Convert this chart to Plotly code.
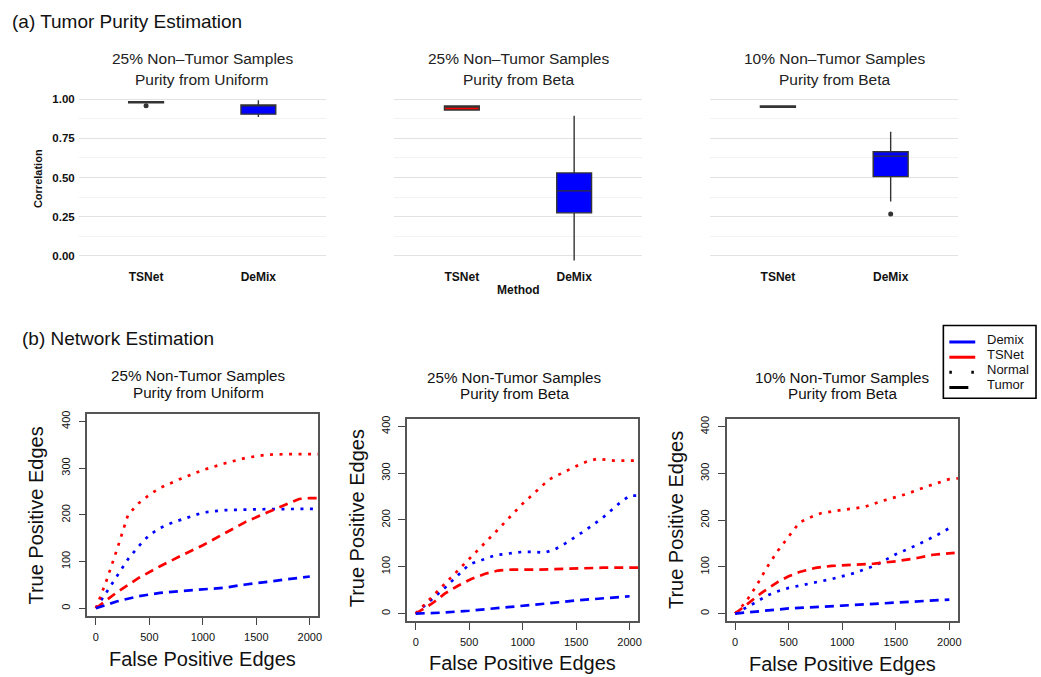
import plotly.graph_objects as go

W, H = 1041, 677
FONT = "Liberation Sans, Arial, Helvetica, sans-serif"

# ---------------- data: (a) tumor purity estimation (box summaries) ----------------
methods = ["TSNet", "DeMix"]
box_titles = [("25% Non\u2013Tumor Samples", "Purity from Uniform"),
              ("25% Non\u2013Tumor Samples", "Purity from Beta"),
              ("10% Non\u2013Tumor Samples", "Purity from Beta")]
box_q1 = [[0.978, 0.905], [0.931, 0.275], [0.948, 0.506]]
box_median = [[0.981, 0.962], [0.952, 0.415], [0.953, 0.637]]
box_q3 = [[0.984, 0.964], [0.957, 0.530], [0.957, 0.665]]
box_lower = [[0.978, 0.886], [0.930, -0.030], [0.948, 0.348]]
box_upper = [[0.984, 0.994], [0.962, 0.894], [0.957, 0.793]]
box_outliers = [[[0.958], []], [[], []], [[], [0.267]]]
method_colors = ["#FF0000", "#0000FF"]

# ---------------- data: (b) network estimation ----------------
net_titles = [("25% Non-Tumor Samples", "Purity from Uniform"),
              ("25% Non-Tumor Samples", "Purity from Beta"),
              ("10% Non-Tumor Samples", "Purity from Beta")]

# panel 1: 25% uniform
p1_tsnet_normal_x = [0, 100, 200, 300, 400, 500, 600, 700, 800, 1000, 1200, 1400, 1600, 1800, 2100]
p1_tsnet_normal_y = [0, 60, 128, 200, 225, 243, 258, 268, 278, 296, 310, 322, 329, 330, 330]
p1_demix_normal_x = [0, 100, 200, 300, 400, 500, 600, 700, 800, 900, 1000, 1200, 1500, 2100]
p1_demix_normal_y = [0, 35, 70, 105, 133, 157, 172, 182, 190, 198, 205, 210, 212, 213]
p1_tsnet_tumor_x = [0, 200, 400, 600, 800, 1000, 1200, 1400, 1600, 1800, 1900, 2000, 2100]
p1_tsnet_tumor_y = [0, 35, 65, 90, 113, 135, 160, 185, 205, 225, 234, 236, 236]
p1_demix_tumor_x = [0, 200, 400, 600, 800, 1000, 1200, 1400, 1600, 1800, 2000]
p1_demix_tumor_y = [0, 15, 26, 33, 37, 40, 44, 51, 57, 63, 68]

# panel 2: 25% beta
p2_tsnet_normal_x = [0, 250, 500, 750, 1000, 1250, 1500, 1600, 1700, 1850, 2100]
p2_tsnet_normal_y = [0, 58, 115, 175, 235, 287, 315, 325, 331, 327, 327]
p2_demix_normal_x = [0, 250, 500, 750, 1000, 1100, 1200, 1300, 1400, 1500, 1600, 1750, 1900, 2000, 2100]
p2_demix_normal_y = [0, 50, 105, 125, 132, 132, 130, 137, 150, 165, 180, 205, 235, 252, 252]
p2_tsnet_tumor_x = [0, 150, 275, 400, 520, 650, 770, 900, 1150, 1450, 1750, 2100]
p2_tsnet_tumor_y = [0, 21, 43, 60, 74, 85, 92, 94, 94, 96, 98, 98]
p2_demix_tumor_x = [0, 250, 500, 750, 1000, 1250, 1500, 1750, 2000]
p2_demix_tumor_y = [0, 2, 6, 11, 17, 22, 28, 33, 37]

# panel 3: 10% beta
p3_tsnet_normal_x = [0, 100, 200, 300, 400, 500, 600, 700, 800, 1000, 1200, 1400, 1600, 1800, 2000, 2100]
p3_tsnet_normal_y = [0, 25, 60, 100, 135, 165, 195, 206, 215, 222, 228, 243, 256, 273, 288, 290]
p3_demix_normal_x = [0, 100, 200, 300, 400, 500, 700, 900, 1100, 1300, 1500, 1700, 1900, 2000]
p3_demix_normal_y = [0, 12, 25, 39, 48, 55, 64, 74, 86, 102, 127, 147, 170, 183]
p3_tsnet_tumor_x = [0, 150, 250, 400, 500, 600, 750, 900, 1100, 1300, 1500, 1700, 1850, 2000, 2050]
p3_tsnet_tumor_y = [0, 28, 45, 68, 80, 89, 98, 102, 104, 107, 112, 119, 126, 130, 130]
p3_demix_tumor_x = [0, 200, 500, 1000, 1500, 2000]
p3_demix_tumor_y = [0, 5, 11, 17, 23, 30]

x_ticks_net = [0, 500, 1000, 1500, 2000]
y_ticks_net = [0, 100, 200, 300, 400]
y_ticks_box = [0.0, 0.25, 0.5, 0.75, 1.0]
legend_labels = ["Demix", "TSNet", "Normal", "Tumor"]

RED, BLUE = "#FF0000", "#0000FF"
DOT = "3px,6.5px"
DASH = "9px,6px"
DY = -2.5  # annotation vertical correction


def fx(x):
    return x / W


def fy(y):
    return 1 - y / H


fig = go.Figure()

# ---------------- top box panels ----------------
top_dom_x = [(79, 327), (396, 644), (713, 962)]
top_dom_y = (88.8, 261.9)
for p in range(3):
    ax = "" if p == 0 else str(p + 1)
    for m in range(2):
        fig.add_trace(go.Box(
            x=[m + 1], q1=[box_q1[p][m]], median=[box_median[p][m]], q3=[box_q3[p][m]],
            lowerfence=[box_lower[p][m]], upperfence=[box_upper[p][m]],
            width=0.31, whiskerwidth=0, fillcolor=method_colors[m],
            line=dict(color="#333333", width=1.4), boxpoints=False,
            xaxis="x" + ax, yaxis="y" + ax, showlegend=False, hoverinfo="skip"))
        if box_outliers[p][m]:
            fig.add_trace(go.Scatter(
                x=[m + 1] * len(box_outliers[p][m]), y=box_outliers[p][m], mode="markers",
                marker=dict(color="#333333", size=5), xaxis="x" + ax, yaxis="y" + ax,
                showlegend=False, hoverinfo="skip"))
    x0, x1 = top_dom_x[p]
    fig.layout["xaxis" + ax] = dict(
        domain=[fx(x0), fx(x1)], range=[0.4, 2.6], tickvals=[1, 2], ticktext=methods,
        showgrid=False, zeroline=False, showline=False, ticks="",
        tickfont=dict(family=FONT, size=12, color="#111111", weight="bold"),
        ticklabelstandoff=4, anchor="y" + ax)
    fig.layout["yaxis" + ax] = dict(
        domain=[fy(top_dom_y[1]), fy(top_dom_y[0])], range=[-0.05, 1.05],
        tickvals=y_ticks_box, ticktext=["%.2f" % v for v in y_ticks_box],
        showticklabels=(p == 0), showgrid=True, gridcolor="#e2e2e2", gridwidth=1.1,
        minor=dict(tick0=0.125, dtick=0.25, showgrid=True, gridcolor="#f3f3f3", gridwidth=0.8),
        zeroline=False, showline=False, ticks="",
        tickfont=dict(family=FONT, size=11.5, color="#111111", weight="bold"),
        ticklabelstandoff=3, anchor="x" + ax)

# ---------------- bottom network panels ----------------
net_series = [
    [(p1_demix_normal_x, p1_demix_normal_y, BLUE, DOT), (p1_tsnet_normal_x, p1_tsnet_normal_y, RED, DOT),
     (p1_tsnet_tumor_x, p1_tsnet_tumor_y, RED, DASH), (p1_demix_tumor_x, p1_demix_tumor_y, BLUE, DASH)],
    [(p2_demix_normal_x, p2_demix_normal_y, BLUE, DOT), (p2_tsnet_normal_x, p2_tsnet_normal_y, RED, DOT),
     (p2_tsnet_tumor_x, p2_tsnet_tumor_y, RED, DASH), (p2_demix_tumor_x, p2_demix_tumor_y, BLUE, DASH)],
    [(p3_demix_normal_x, p3_demix_normal_y, BLUE, DOT), (p3_tsnet_normal_x, p3_tsnet_normal_y, RED, DOT),
     (p3_tsnet_tumor_x, p3_tsnet_tumor_y, RED, DASH), (p3_demix_tumor_x, p3_demix_tumor_y, BLUE, DASH)],
]
bot_dom_x = [(87.7, 319.6), (408.7, 640.6), (729.4, 961.6)]
bot_dom_y = [(412.8, 615.5), (417.8, 620.8), (418.2, 620.8)]
for p in range(3):
    ax = str(p + 4)
    for xs, ys, col, dash in net_series[p]:
        fig.add_trace(go.Scatter(x=xs, y=ys, mode="lines",
                                 line=dict(color=col, width=2.7, dash=dash),
                                 xaxis="x" + ax, yaxis="y" + ax, showlegend=False, hoverinfo="skip"))
    x0, x1 = bot_dom_x[p]
    y0, y1 = bot_dom_y[p]
    fig.layout["xaxis" + ax] = dict(
        domain=[fx(x0), fx(x1)], range=[-80, 2080], tickvals=x_ticks_net,
        showgrid=False, zeroline=False, showline=True, linecolor="#555555", linewidth=1.5,
        mirror=True, ticks="outside", ticklen=7, tickcolor="#444444", tickwidth=1,
        tickfont=dict(family=FONT, size=11, color="#111111"), ticklabelstandoff=3,
        anchor="y" + ax)
    fig.layout["yaxis" + ax] = dict(
        domain=[fy(y1), fy(y0)], range=[-16, 416], tickvals=y_ticks_net, tickangle=-90,
        showgrid=False, zeroline=False, showline=True, linecolor="#555555", linewidth=1.5,
        mirror=True, ticks="outside", ticklen=7, tickcolor="#444444", tickwidth=1,
        tickfont=dict(family=FONT, size=11, color="#111111"), ticklabelstandoff=4,
        anchor="x" + ax)

# ---------------- text ----------------
ann = []


def text(x, y, s, size, xanchor="center", angle=0, bold=False, color="#111111"):
    ann.append(dict(x=fx(x), y=fy(y + (DY if angle == 0 else 0)), xref="paper", yref="paper", text=s,
                    showarrow=False, xanchor=xanchor, yanchor="middle", textangle=angle,
                    font=dict(family=FONT, size=size, color=color, weight="bold" if bold else "normal")))


text(10, 21.5, "(a) Tumor Purity Estimation", 19, xanchor="left")
text(20, 339, "(b) Network Estimation", 19, xanchor="left")

top_centers = [203, 520, 837.5]
for p in range(3):
    text(top_centers[p], 58, box_titles[p][0], 15.5, color="#222222")
    text(top_centers[p], 79, box_titles[p][1], 15.5, color="#222222")
text(38, 176, "Correlation", 11, angle=-90, bold=True)
text(520, 291, "Method", 12, bold=True)

net_title_x = [199, 516, 845.5]
net_title_y = [(377, 394), (378.3, 394.3), (378.3, 395)]
xtitle_pos = [(203, 661.5), (524.5, 665), (845.5, 666)]
ytitle_pos = [(36, 515), (358, 518), (678, 519)]
for p in range(3):
    text(net_title_x[p], net_title_y[p][0], net_titles[p][0], 15.2)
    text(net_title_x[p], net_title_y[p][1], net_titles[p][1], 15.2)
    text(xtitle_pos[p][0], xtitle_pos[p][1], "False Positive Edges", 20)
    text(ytitle_pos[p][0], ytitle_pos[p][1], "True Positive Edges", 20, angle=-90)

# ---------------- legend (manual, base-R style) ----------------
shapes = [dict(type="rect", xref="paper", yref="paper", x0=fx(947), x1=fx(1040), y0=fy(397), y1=fy(324),
               line=dict(color="#000000", width=1.6), fillcolor="rgba(0,0,0,0)")]
leg_y = [340.5, 355.8, 371, 386.2]
leg_style = [(BLUE, "solid", 979), (RED, "solid", 979), ("#000000", "2.5px,19.5px", 979), ("#000000", "19px,100px", 979)]
for i, lab in enumerate(legend_labels):
    col, dsh, xe = leg_style[i]
    shapes.append(dict(type="line", xref="paper", yref="paper", x0=fx(953), x1=fx(xe),
                       y0=fy(leg_y[i]), y1=fy(leg_y[i]), line=dict(color=col, width=3, dash=dsh)))
    text(989, leg_y[i], lab, 13, xanchor="left")

fig.update_layout(width=W, height=H, autosize=False, margin=dict(l=0, r=0, t=0, b=0),
                  paper_bgcolor="white", plot_bgcolor="white", boxmode="overlay",
                  annotations=ann, shapes=shapes, showlegend=False,
                  font=dict(family=FONT, color="#111111"))
fig.write_html("out.html")
